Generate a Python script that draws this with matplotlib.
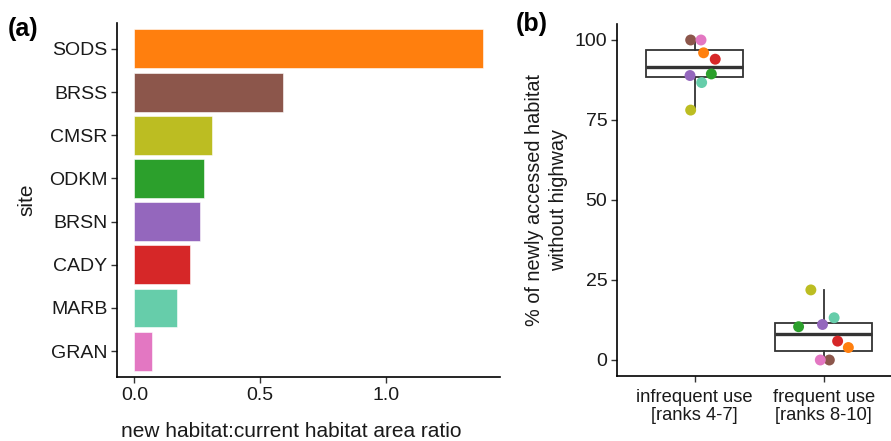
import numpy as np
import matplotlib
matplotlib.use("Agg")
import matplotlib.pyplot as plt

plt.rcParams['font.family'] = ['Liberation Sans', 'DejaVu Sans']

# panel (a): area ratio per site
sites = ["SODS", "BRSS", "CMSR", "ODKM", "BRSN", "CADY", "MARB", "GRAN"]
ratio = [1.385, 0.59, 0.31, 0.277, 0.262, 0.223, 0.168, 0.07]
site_colors = {
    "SODS": "#ff7f0e", "BRSS": "#8c564b", "CMSR": "#bcbd22", "ODKM": "#2ca02c",
    "BRSN": "#9467bd", "CADY": "#d62728", "MARB": "#66cdaa", "GRAN": "#e377c2",
}

# panel (b): % of newly accessed habitat without highway
groups = ["infrequent use\n[ranks 4-7]", "frequent use\n[ranks 8-10]"]
point_sites = ["BRSS", "GRAN", "SODS", "CADY", "BRSN", "ODKM", "MARB", "CMSR"]
infrequent = [100.0, 100.0, 96.0, 94.0, 88.9, 89.4, 86.7, 78.1]
frequent = [0.0, 0.0, 3.9, 5.9, 11.1, 10.4, 13.2, 21.9]
# horizontal jitter
jitter_infrequent = [-0.03, 0.05, 0.07, 0.16, -0.035, 0.13, 0.055, -0.03]
jitter_frequent = [0.043, -0.027, 0.19, 0.107, -0.01, -0.195, 0.08, -0.10]

W, H = 891, 441
fig = plt.figure(figsize=(W / 100, H / 100), dpi=100)

text_col = "#1a1a1a"
tick_fs = 14
label_fs = 15

def style_axes(ax):
    for s in ["top", "right"]:
        ax.spines[s].set_visible(False)
    for s in ["left", "bottom"]:
        ax.spines[s].set_linewidth(1.2)
        ax.spines[s].set_color("black")
    ax.tick_params(length=4, width=1.0, color="#333333", labelsize=tick_fs,
                   labelcolor=text_col, pad=3)

# ---- panel (a)
ax1 = fig.add_axes([117 / W, 1 - 377 / H, (500 - 117) / W, (377 - 23) / H])
ypos = np.arange(len(sites))[::-1] + 1
ax1.barh(ypos, ratio, height=0.9, color=[site_colors[s] for s in sites],
         edgecolor="white", linewidth=0.4)
ax1.set_yticks(ypos)
ax1.set_yticklabels(sites)
ax1.set_ylim(0.4, len(sites) + 0.6)
ax1.set_xlim(-0.069, 1.454)
ax1.set_xticks([0.0, 0.5, 1.0])
ax1.set_xticklabels(["0.0", "0.5", "1.0"])
ax1.set_xlabel("new habitat:current habitat area ratio", fontsize=label_fs,
               color=text_col, va="center")
ax1.xaxis.set_label_coords(0.454, -0.155)
ax1.set_ylabel("site", fontsize=label_fs, color=text_col, labelpad=9)
style_axes(ax1)

# ---- panel (b)
ax2 = fig.add_axes([617 / W, 1 - 376 / H, (W - 617) / W, (376 - 24) / H])
bp = ax2.boxplot([infrequent, frequent], positions=[1, 2], widths=0.75,
                 whis=1.5, showfliers=False, patch_artist=True, zorder=2)
for b in bp["boxes"]:
    b.set(facecolor="white", edgecolor="#333333", linewidth=1.3)
for w in bp["whiskers"]:
    w.set(color="#333333", linewidth=1.3)
for c in bp["caps"]:
    c.set(visible=False)
for m in bp["medians"]:
    m.set(color="#333333", linewidth=2.4)

for gx, vals, jit in [(1, infrequent, jitter_infrequent), (2, frequent, jitter_frequent)]:
    xs = [gx + j for j in jit]
    ax2.scatter(xs, vals, s=62, c=[site_colors[s] for s in point_sites],
                linewidths=0, zorder=3)

ax2.set_xlim(0.4, 2.52)
ax2.set_ylim(-5, 105)
ax2.set_yticks([0, 25, 50, 75, 100])
ax2.set_xticks([1, 2])
ax2.set_xticklabels(groups, linespacing=1.1)
ax2.set_ylabel("% of newly accessed habitat\nwithout highway", fontsize=14.3,
               color=text_col, labelpad=5, linespacing=1.3)
style_axes(ax2)
ax2.tick_params(axis="x", labelsize=13.2, pad=5)

fig.text(8 / W, 1 - 36 / H, "(a)", fontsize=18, fontweight="bold", color="black")
fig.text(516 / W, 1 - 31 / H, "(b)", fontsize=18, fontweight="bold", color="black")

fig.savefig("out.png", dpi=100)
